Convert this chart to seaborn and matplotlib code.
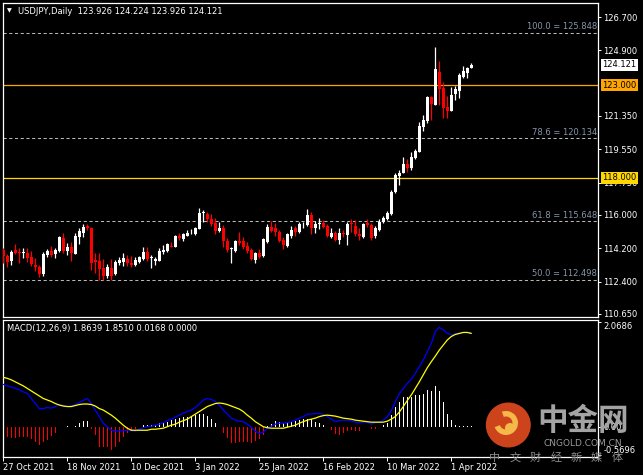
import matplotlib
matplotlib.use('Agg')
import numpy as np
import pandas as pd
import matplotlib.pyplot as plt
import matplotlib.transforms as mtransforms
from matplotlib.patches import Circle, Wedge
import seaborn as sns

# --- USDJPY daily candles, 27 Oct 2021 .. 8 Apr 2022 ---
opens = [114.11, 113.78, 113.51, 114.11, 114.02, 113.94, 113.96, 113.75, 113.29, 113.20,
         112.81, 113.84, 114.07, 113.87, 114.05, 114.77, 114.05, 114.29, 113.89, 114.83,
         115.04, 115.42, 115.31, 113.57, 113.51, 113.15, 112.70, 113.11, 112.81, 113.39,
         113.47, 113.62, 113.42, 113.29, 113.47, 113.62, 113.98, 113.67, 113.51, 113.53,
         114.02, 114.05, 114.30, 114.29, 114.88, 114.68, 114.88, 115.01, 114.97, 115.24,
         116.09, 116.05, 115.78, 115.55, 115.13, 115.28, 114.59, 114.18, 114.05, 114.59,
         114.59, 114.32, 114.11, 113.56, 113.96, 113.78, 114.56, 115.37, 115.31, 115.10,
         114.65, 114.34, 114.88, 115.31, 115.06, 115.49, 115.46, 116.00, 115.31, 115.53,
         115.58, 115.40, 114.83, 115.04, 114.65, 115.04, 114.92, 115.55, 115.40, 114.97,
         114.83, 115.55, 115.46, 114.86, 115.19, 115.64, 115.78, 116.05, 117.26, 118.11,
         118.29, 118.75, 118.52, 119.06, 119.42, 120.74, 121.08, 122.39, 121.94, 123.75,
         122.88, 121.82, 121.62, 122.54, 122.72, 123.48, 123.66, 123.926]
highs = [114.20, 113.87, 114.11, 114.43, 114.20, 114.20, 114.20, 114.05, 113.69, 113.29,
         114.02, 114.16, 114.32, 114.21, 114.86, 115.01, 114.50, 114.56, 115.01, 115.28,
         115.51, 115.51, 115.37, 113.96, 113.93, 113.62, 113.33, 113.60, 113.57, 113.75,
         113.93, 113.84, 113.78, 113.73, 113.80, 114.29, 114.25, 113.84, 113.75, 114.20,
         114.38, 114.50, 114.56, 114.92, 115.01, 115.04, 115.19, 115.22, 115.37, 116.39,
         116.27, 116.18, 116.05, 115.82, 115.64, 115.46, 114.74, 114.29, 114.63, 115.10,
         114.83, 114.56, 114.20, 114.02, 114.16, 114.74, 115.51, 115.67, 115.55, 115.19,
         114.83, 115.01, 115.40, 115.40, 115.64, 115.64, 116.32, 116.14, 115.67, 115.85,
         115.73, 115.49, 115.31, 115.13, 115.28, 115.19, 115.64, 115.78, 115.73, 115.28,
         115.58, 115.78, 115.58, 115.42, 115.76, 115.94, 116.21, 117.35, 118.25, 118.43,
         119.15, 119.01, 119.42, 119.55, 121.04, 121.40, 122.43, 122.43, 125.10, 124.34,
         123.21, 122.43, 122.93, 122.97, 123.66, 124.05, 124.02, 124.224]
lows = [113.39, 113.20, 113.29, 113.87, 113.42, 113.66, 113.48, 113.24, 112.99, 112.66,
        112.72, 113.75, 113.71, 113.69, 114.02, 113.93, 113.84, 113.53, 113.89, 114.43,
        114.79, 115.19, 113.02, 112.85, 112.48, 112.48, 112.57, 112.48, 112.76, 113.29,
        113.26, 113.26, 113.20, 113.24, 113.38, 113.56, 113.51, 113.11, 113.29, 113.51,
        113.89, 114.02, 114.25, 114.25, 114.65, 114.61, 114.86, 114.97, 114.92, 115.24,
        115.60, 115.64, 115.42, 114.95, 115.06, 114.29, 113.98, 113.38, 114.02, 114.38,
        114.16, 113.93, 113.56, 113.42, 113.65, 113.75, 114.47, 115.10, 114.88, 114.56,
        114.14, 114.29, 114.74, 114.88, 115.01, 115.31, 115.42, 114.97, 115.01, 115.24,
        115.28, 114.79, 114.77, 114.61, 114.43, 114.83, 114.38, 115.10, 114.86, 114.65,
        114.77, 115.37, 114.65, 114.77, 115.15, 115.55, 115.73, 116.00, 117.21, 117.62,
        118.25, 118.34, 118.43, 119.01, 119.39, 120.56, 120.95, 121.13, 121.94, 121.94,
        121.22, 121.22, 121.62, 122.21, 122.30, 123.42, 123.39, 123.926]
closes = [113.78, 113.48, 114.02, 113.93, 113.93, 113.98, 113.69, 113.35, 113.17, 112.81,
          113.89, 114.07, 113.84, 114.11, 114.83, 114.05, 114.29, 113.93, 114.88, 115.15,
          115.37, 115.31, 113.42, 113.48, 113.08, 112.70, 113.20, 112.70, 113.48, 113.57,
          113.69, 113.38, 113.29, 113.56, 113.75, 114.02, 113.62, 113.71, 113.62, 114.05,
          114.11, 114.43, 114.27, 114.88, 114.74, 114.97, 115.04, 115.04, 115.31, 116.09,
          116.18, 115.78, 115.49, 115.13, 115.31, 114.59, 114.11, 114.21, 114.59, 114.47,
          114.25, 114.07, 113.62, 113.96, 113.75, 114.68, 115.37, 115.13, 115.06, 114.61,
          114.38, 114.97, 115.19, 115.06, 115.51, 115.53, 116.00, 115.28, 115.49, 115.56,
          115.37, 114.86, 115.04, 114.65, 115.04, 114.97, 115.49, 115.49, 114.95, 114.88,
          115.49, 115.46, 114.74, 115.28, 115.64, 115.82, 116.12, 117.26, 118.16, 118.29,
          118.75, 118.52, 119.15, 119.48, 120.81, 121.13, 122.39, 122.00, 123.89, 122.79,
          121.76, 121.62, 122.48, 122.79, 123.57, 123.80, 123.96, 124.121]

# --- MACD(12,26,9) panel ---
macd_main = [0.84, 0.81, 0.79, 0.76, 0.73, 0.69, 0.66, 0.56, 0.46, 0.36,
             0.36, 0.38, 0.37, 0.40, 0.44, 0.42, 0.40, 0.41, 0.44, 0.48,
             0.52, 0.56, 0.46, 0.33, 0.20, 0.07, 0.00, -0.07, -0.09, -0.08,
             -0.08, -0.07, -0.08, -0.09, -0.05, -0.02, 0.00, 0.01, 0.03, 0.05,
             0.08, 0.12, 0.15, 0.19, 0.23, 0.27, 0.30, 0.33, 0.38, 0.45,
             0.53, 0.56, 0.54, 0.50, 0.43, 0.33, 0.25, 0.17, 0.13, 0.11,
             0.10, 0.05, -0.01, -0.09, -0.13, -0.11, -0.03, 0.01, 0.05, 0.07,
             0.07, 0.08, 0.10, 0.13, 0.17, 0.20, 0.25, 0.25, 0.26, 0.26,
             0.25, 0.20, 0.15, 0.10, 0.12, 0.13, 0.13, 0.12, 0.09, 0.08,
             0.09, 0.09, 0.05, 0.08, 0.09, 0.13, 0.20, 0.32, 0.50, 0.65,
             0.76, 0.86, 0.94, 1.06, 1.19, 1.32, 1.49, 1.65, 1.89, 1.97,
             1.92, 1.85, 1.83, 1.84, 1.86, 1.87, 1.87, 1.8639]
macd_signal = [0.98, 0.96, 0.93, 0.89, 0.85, 0.81, 0.76, 0.71, 0.66, 0.61,
               0.56, 0.53, 0.50, 0.46, 0.43, 0.41, 0.40, 0.40, 0.42, 0.44,
               0.45, 0.45, 0.44, 0.41, 0.36, 0.33, 0.28, 0.23, 0.17, 0.10,
               0.03, -0.03, -0.07, -0.07, -0.07, -0.07, -0.07, -0.05, -0.05, -0.04,
               -0.03, 0.00, 0.03, 0.05, 0.09, 0.12, 0.15, 0.20, 0.25, 0.30,
               0.35, 0.40, 0.43, 0.46, 0.47, 0.46, 0.44, 0.41, 0.38, 0.35,
               0.30, 0.23, 0.17, 0.10, 0.05, 0.00, -0.02, -0.03, -0.03, -0.03,
               -0.03, -0.01, 0.01, 0.03, 0.07, 0.10, 0.13, 0.15, 0.17, 0.20,
               0.22, 0.23, 0.22, 0.21, 0.19, 0.17, 0.16, 0.15, 0.13, 0.12,
               0.11, 0.10, 0.09, 0.09, 0.09, 0.09, 0.11, 0.15, 0.20, 0.29,
               0.40, 0.52, 0.63, 0.76, 0.89, 1.03, 1.17, 1.29, 1.40, 1.52,
               1.62, 1.72, 1.79, 1.83, 1.85, 1.87, 1.87, 1.8510]
macd_hist = [-0.17, -0.20, -0.22, -0.22, -0.21, -0.20, -0.21, -0.25, -0.30, -0.36,
             -0.30, -0.27, -0.19, -0.13, 0.00, 0.00, 0.01, -0.01, 0.02, 0.07,
             0.12, 0.12, -0.05, -0.17, -0.40, -0.41, -0.41, -0.46, -0.41, -0.30,
             -0.20, -0.13, -0.08, -0.05, -0.01, 0.04, 0.04, 0.04, 0.04, 0.07,
             0.09, 0.10, 0.13, 0.15, 0.17, 0.19, 0.20, 0.22, 0.23, 0.25,
             0.25, 0.21, 0.15, 0.07, 0.00, -0.13, -0.23, -0.32, -0.32, -0.31,
             -0.30, -0.30, -0.32, -0.28, -0.25, -0.17, 0.01, 0.05, 0.11, 0.10,
             0.07, 0.09, 0.10, 0.11, 0.13, 0.15, 0.15, 0.15, 0.10, 0.08,
             0.03, -0.01, -0.07, -0.15, -0.17, -0.12, -0.09, -0.07, -0.08, -0.09,
             -0.01, 0.00, -0.05, -0.05, 0.00, 0.03, 0.08, 0.23, 0.40, 0.50,
             0.58, 0.58, 0.58, 0.63, 0.63, 0.65, 0.73, 0.71, 0.81, 0.71,
             0.50, 0.25, 0.13, 0.03, 0.01, 0.01, 0.01, 0.0168]

fib_pcts = ['100.0', '78.6', '61.8', '50.0']
fib_levels = [125.848, 120.134, 115.648, 112.498]
price_ticks = [126.700, 124.900, 121.350, 119.550, 117.750, 116.000, 114.200, 112.400, 110.650]
macd_ticks = [2.0686, 0.0, -0.5696]
macd_tick_labels = ['2.0686', '0.00', '-0.5696']

dates = pd.bdate_range('2021-10-27', periods=len(closes))
df = pd.DataFrame({'bar': np.arange(len(closes)), 'date': dates,
                   'open': opens, 'high': highs, 'low': lows, 'close': closes,
                   'macd': macd_main, 'signal': macd_signal, 'hist': macd_hist})

sns.set_theme(style='dark')
plt.rcParams['font.family'] = ['DejaVu Sans']
FS = 6

W, H = 643, 475
fig = plt.figure(figsize=(W / 100, H / 100), dpi=100, facecolor='black')
ax = fig.add_axes([2.7 / W, 1 - 317 / H, 595.6 / W, 314.3 / H])
ax2 = fig.add_axes([2.7 / W, 1 - 456.7 / H, 595.6 / W, 136.7 / H])

for a in (ax, ax2):
    a.set_facecolor('black')
    a.grid(False)
    for s in a.spines.values():
        s.set_color('white')
        s.set_linewidth(0.9)
    a.set_xlim(-0.15, 148.75)

# candles
up = df['close'] >= df['open']
cols = np.where(up, 'white', '#FF0000')
ax.vlines(df['bar'], df['low'], df['high'], colors=cols, lw=0.9, zorder=3)
body_lo = np.minimum(df['open'], df['close'])
body_h = np.maximum((df['close'] - df['open']).abs(), 0.04)
ax.bar(df['bar'], body_h, bottom=body_lo, width=0.74, color=cols, lw=0, zorder=4)

# fibonacci levels
blend = mtransforms.blended_transform_factory(ax.transAxes, ax.transData)
for pct, lvl in zip(fib_pcts, fib_levels):
    ax.axhline(lvl, color='#B8B8B8', lw=0.75, dashes=(3, 2.5), zorder=2)
    ax.text(0.9975, lvl + 0.09, f'{pct} = {lvl:.3f}', transform=blend, ha='right',
            va='bottom', color='#8596AA', fontsize=FS)

# horizontal levels
ax.axhline(123.0, color='#FFA500', lw=0.9, zorder=2)
ax.axhline(118.0, color='#FFD700', lw=0.9, zorder=2)

ax.set_ylim(110.484, 127.473)
ax.set_xticks([])
ax.yaxis.tick_right()
ax.set_yticks(price_ticks)
ax.set_yticklabels([f'{p:.3f}' for p in price_ticks])
ax.tick_params(axis='y', colors='white', labelcolor='white', labelsize=FS,
               length=2.2, width=0.7, pad=1.5, right=True, left=False)

for lvl, txt, fc in [(124.121, '124.121', 'white'), (123.0, '123.000', '#FFA500'),
                     (118.0, '118.000', '#FFD700')]:
    ax.text(1.0065, lvl, txt, transform=blend, ha='left', va='center', color='black',
            fontsize=FS, clip_on=False, zorder=6,
            bbox=dict(boxstyle='square,pad=0.18', fc=fc, ec='none'))

# MACD panel
pos = df['hist'] >= 0
ax2.bar(df['bar'], df['hist'], width=0.3, color=np.where(pos, 'white', '#FF0000'),
        lw=0, antialiased=False, zorder=2)
sns.lineplot(data=df, x='bar', y='macd', ax=ax2, color='#0000FF', lw=0.9, zorder=3)
sns.lineplot(data=df, x='bar', y='signal', ax=ax2, color='#FFFF00', lw=0.9, zorder=4)
ax2.set_ylim(-0.595, 2.117)
ax2.set_xlabel('')
ax2.set_ylabel('')
ax2.yaxis.tick_right()
ax2.set_yticks(macd_ticks)
ax2.set_yticklabels(macd_tick_labels)
ax2.tick_params(axis='y', colors='white', labelcolor='white', labelsize=FS,
                length=2.2, width=0.7, pad=1.5, right=True, left=False)
ylabels = ax2.get_yticklabels()
ylabels[0].set_va('top')
ylabels[-1].set_va('bottom')

tick_bars = df['bar'][::16]
ax2.set_xticks(tick_bars)
ax2.set_xticklabels([f'{d.day} {d:%b %Y}' for d in df['date'][::16]], ha='left')
ax2.tick_params(axis='x', colors='white', labelcolor='white', labelsize=FS,
                length=3, width=0.7, pad=1.5, bottom=True, direction='out')

# header texts
fig.text(6.5 / W, 1 - 11 / H, '\u25BC', color='white', fontsize=4.5, va='center')
fig.text(18 / W, 1 - 11 / H, 'USDJPY,Daily  123.926 124.224 123.926 124.121',
         color='white', fontsize=FS, va='center')
fig.text(7 / W, 1 - 328.5 / H, 'MACD(12,26,9) 1.8639 1.8510 0.0168 0.0000',
         color='white', fontsize=FS, va='center')

# watermark
fig.patches.append(Circle((5.083, 0.50), 0.225, transform=fig.dpi_scale_trans,
                          fc='#D9481E', ec='none', alpha=0.95, zorder=5))
fig.patches.append(Wedge((5.06, 0.52), 0.12, 200, 470, width=0.055,
                         transform=fig.dpi_scale_trans, fc='#F5B94A', ec='none', zorder=6))
fig.patches.append(Circle((5.10, 0.47), 0.05, transform=fig.dpi_scale_trans,
                          fc='#F5B94A', ec='none', zorder=6))
fig.text(583 / W, 1 - 421 / H, '中金网', ha='center', va='center', fontsize=22,
         color='#A3A3A3', family=['Noto Sans CJK SC'], weight='bold', zorder=6)
fig.text(582.5 / W, 1 - 443 / H, 'CNGOLD.COM.CN', ha='center', va='center', fontsize=6.5,
         color='#9A9A9A', zorder=6)
for i, ch in enumerate('中文财经新媒体'):
    fig.text((495 + i * 20.3) / W, 1 - 458 / H, ch, ha='center', va='center', fontsize=8,
             color='#8E8E8E', family=['Noto Sans CJK SC'], zorder=6)

fig.savefig('out.png', dpi=100, facecolor='black')
